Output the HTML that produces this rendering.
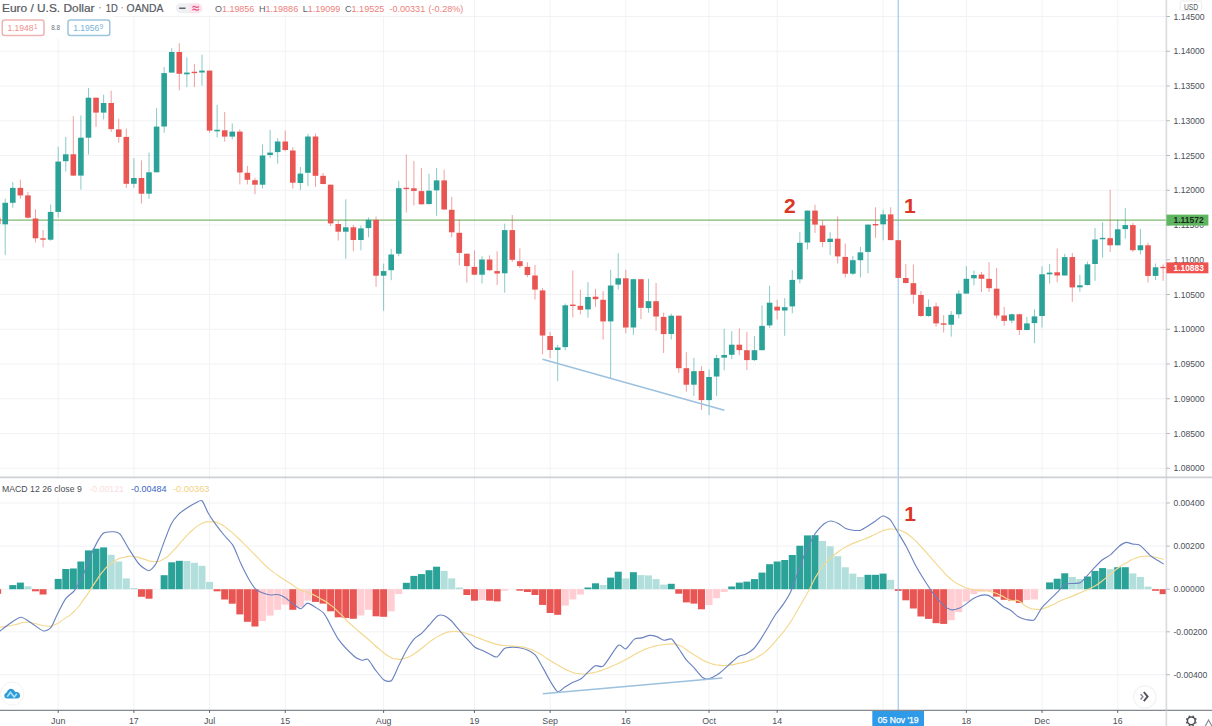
<!DOCTYPE html>
<html><head><meta charset="utf-8"><title>EURUSD chart</title>
<style>
html,body{margin:0;padding:0;background:#fff;}
body{width:1212px;height:726px;overflow:hidden;font-family:"Liberation Sans",sans-serif;}
svg{display:block;}
#wrap{width:1212px;height:726px;overflow:hidden;}
</style></head><body>
<div id="wrap">
<svg width="1212" height="726" viewBox="0 0 1212 726" font-family="Liberation Sans, sans-serif">
<rect width="1212" height="726" fill="#fff"/>
<g stroke="#f0f2f5" stroke-width="1">
<line x1="58.2" y1="0" x2="58.2" y2="710.4"/>
<line x1="133.88" y1="0" x2="133.88" y2="710.4"/>
<line x1="209.56" y1="0" x2="209.56" y2="710.4"/>
<line x1="285.24" y1="0" x2="285.24" y2="710.4"/>
<line x1="383.62" y1="0" x2="383.62" y2="710.4"/>
<line x1="474.44" y1="0" x2="474.44" y2="710.4"/>
<line x1="550.12" y1="0" x2="550.12" y2="710.4"/>
<line x1="625.8" y1="0" x2="625.8" y2="710.4"/>
<line x1="709.05" y1="0" x2="709.05" y2="710.4"/>
<line x1="777.16" y1="0" x2="777.16" y2="710.4"/>
<line x1="883.11" y1="0" x2="883.11" y2="710.4"/>
<line x1="966.36" y1="0" x2="966.36" y2="710.4"/>
<line x1="1042.04" y1="0" x2="1042.04" y2="710.4"/>
<line x1="1117.72" y1="0" x2="1117.72" y2="710.4"/>
<line x1="0" y1="16.5" x2="1166.4" y2="16.5"/>
<line x1="0" y1="51.25" x2="1166.4" y2="51.25"/>
<line x1="0" y1="86" x2="1166.4" y2="86"/>
<line x1="0" y1="120.75" x2="1166.4" y2="120.75"/>
<line x1="0" y1="155.5" x2="1166.4" y2="155.5"/>
<line x1="0" y1="190.25" x2="1166.4" y2="190.25"/>
<line x1="0" y1="225" x2="1166.4" y2="225"/>
<line x1="0" y1="259.75" x2="1166.4" y2="259.75"/>
<line x1="0" y1="294.5" x2="1166.4" y2="294.5"/>
<line x1="0" y1="329.25" x2="1166.4" y2="329.25"/>
<line x1="0" y1="364" x2="1166.4" y2="364"/>
<line x1="0" y1="398.75" x2="1166.4" y2="398.75"/>
<line x1="0" y1="433.5" x2="1166.4" y2="433.5"/>
<line x1="0" y1="468.25" x2="1166.4" y2="468.25"/>
<line x1="0" y1="503" x2="1166.4" y2="503"/>
<line x1="0" y1="546.1" x2="1166.4" y2="546.1"/>
<line x1="0" y1="589.2" x2="1166.4" y2="589.2"/>
<line x1="0" y1="631.8" x2="1166.4" y2="631.8"/>
<line x1="0" y1="674.7" x2="1166.4" y2="674.7"/>
</g>
<g>
<rect x="-5.84" y="589.2" width="7.0" height="4.6" fill="#e85552"/>
<rect x="9.29" y="585.1" width="7.0" height="4.1" fill="#2aa297"/>
<rect x="16.86" y="582.6" width="7.0" height="6.6" fill="#2aa297"/>
<rect x="24.43" y="586.3" width="7.0" height="2.9" fill="#b2dfdb"/>
<rect x="32" y="589.2" width="7.0" height="2.1" fill="#e85552"/>
<rect x="39.56" y="589.2" width="7.0" height="5.3" fill="#e85552"/>
<rect x="54.7" y="578.9" width="7.0" height="10.3" fill="#2aa297"/>
<rect x="62.27" y="569" width="7.0" height="20.2" fill="#2aa297"/>
<rect x="69.84" y="568.5" width="7.0" height="20.7" fill="#2aa297"/>
<rect x="77.4" y="561.5" width="7.0" height="27.7" fill="#2aa297"/>
<rect x="84.97" y="550.4" width="7.0" height="38.8" fill="#2aa297"/>
<rect x="92.54" y="548.7" width="7.0" height="40.5" fill="#2aa297"/>
<rect x="100.11" y="547.4" width="7.0" height="41.8" fill="#2aa297"/>
<rect x="107.68" y="554.8" width="7.0" height="34.4" fill="#b2dfdb"/>
<rect x="115.24" y="561.5" width="7.0" height="27.7" fill="#b2dfdb"/>
<rect x="122.81" y="578.4" width="7.0" height="10.8" fill="#b2dfdb"/>
<rect x="130.38" y="588" width="7.0" height="1.2" fill="#b2dfdb"/>
<rect x="137.95" y="589.2" width="7.0" height="7.6" fill="#e85552"/>
<rect x="145.52" y="589.2" width="7.0" height="9.5" fill="#e85552"/>
<rect x="160.65" y="575.2" width="7.0" height="14" fill="#2aa297"/>
<rect x="168.22" y="562.3" width="7.0" height="26.9" fill="#2aa297"/>
<rect x="175.79" y="560.8" width="7.0" height="28.4" fill="#2aa297"/>
<rect x="183.36" y="561" width="7.0" height="28.2" fill="#b2dfdb"/>
<rect x="190.92" y="562.8" width="7.0" height="26.4" fill="#b2dfdb"/>
<rect x="198.49" y="565.8" width="7.0" height="23.4" fill="#b2dfdb"/>
<rect x="206.06" y="581.9" width="7.0" height="7.3" fill="#b2dfdb"/>
<rect x="213.63" y="589.2" width="7.0" height="2.1" fill="#e85552"/>
<rect x="221.2" y="589.2" width="7.0" height="10.3" fill="#e85552"/>
<rect x="228.76" y="589.2" width="7.0" height="14.5" fill="#e85552"/>
<rect x="236.33" y="589.2" width="7.0" height="25.2" fill="#e85552"/>
<rect x="243.9" y="589.2" width="7.0" height="32.6" fill="#e85552"/>
<rect x="251.47" y="589.2" width="7.0" height="37.3" fill="#e85552"/>
<rect x="259.04" y="589.2" width="7.0" height="31.8" fill="#ffcdd2"/>
<rect x="266.6" y="589.2" width="7.0" height="26.4" fill="#ffcdd2"/>
<rect x="274.17" y="589.2" width="7.0" height="20.7" fill="#ffcdd2"/>
<rect x="281.74" y="589.2" width="7.0" height="15.4" fill="#ffcdd2"/>
<rect x="289.31" y="589.2" width="7.0" height="20.6" fill="#e85552"/>
<rect x="296.88" y="589.2" width="7.0" height="17.7" fill="#ffcdd2"/>
<rect x="304.44" y="589.2" width="7.0" height="11.5" fill="#ffcdd2"/>
<rect x="312.01" y="589.2" width="7.0" height="12.7" fill="#e85552"/>
<rect x="319.58" y="589.2" width="7.0" height="14.4" fill="#e85552"/>
<rect x="327.15" y="589.2" width="7.0" height="22.1" fill="#e85552"/>
<rect x="334.72" y="589.2" width="7.0" height="28.1" fill="#e85552"/>
<rect x="342.28" y="589.2" width="7.0" height="28.8" fill="#e85552"/>
<rect x="349.85" y="589.2" width="7.0" height="29.6" fill="#e85552"/>
<rect x="357.42" y="589.2" width="7.0" height="26.3" fill="#ffcdd2"/>
<rect x="364.99" y="589.2" width="7.0" height="20.6" fill="#ffcdd2"/>
<rect x="372.56" y="589.2" width="7.0" height="27.1" fill="#e85552"/>
<rect x="380.12" y="589.2" width="7.0" height="27.6" fill="#e85552"/>
<rect x="387.69" y="589.2" width="7.0" height="22.1" fill="#ffcdd2"/>
<rect x="395.26" y="589.2" width="7.0" height="4.8" fill="#ffcdd2"/>
<rect x="402.83" y="582.8" width="7.0" height="6.4" fill="#2aa297"/>
<rect x="410.4" y="575.9" width="7.0" height="13.3" fill="#2aa297"/>
<rect x="417.96" y="574.1" width="7.0" height="15.1" fill="#2aa297"/>
<rect x="425.53" y="570.2" width="7.0" height="19" fill="#2aa297"/>
<rect x="433.1" y="566.7" width="7.0" height="22.5" fill="#2aa297"/>
<rect x="440.67" y="570.9" width="7.0" height="18.3" fill="#b2dfdb"/>
<rect x="448.24" y="578.4" width="7.0" height="10.8" fill="#b2dfdb"/>
<rect x="455.8" y="587.5" width="7.0" height="1.7" fill="#b2dfdb"/>
<rect x="463.37" y="589.2" width="7.0" height="5.8" fill="#e85552"/>
<rect x="470.94" y="589.2" width="7.0" height="11.5" fill="#e85552"/>
<rect x="478.51" y="589.2" width="7.0" height="10.7" fill="#ffcdd2"/>
<rect x="486.08" y="589.2" width="7.0" height="11.5" fill="#e85552"/>
<rect x="493.64" y="589.2" width="7.0" height="12.2" fill="#e85552"/>
<rect x="501.21" y="589.2" width="7.0" height="1.5" fill="#ffcdd2"/>
<rect x="516.35" y="589.2" width="7.0" height="1.5" fill="#e85552"/>
<rect x="523.92" y="589.2" width="7.0" height="2.8" fill="#e85552"/>
<rect x="531.48" y="589.2" width="7.0" height="5.8" fill="#e85552"/>
<rect x="539.05" y="589.2" width="7.0" height="15.7" fill="#e85552"/>
<rect x="546.62" y="589.2" width="7.0" height="23.8" fill="#e85552"/>
<rect x="554.19" y="589.2" width="7.0" height="25.6" fill="#e85552"/>
<rect x="561.76" y="589.2" width="7.0" height="16.4" fill="#ffcdd2"/>
<rect x="569.32" y="589.2" width="7.0" height="10.2" fill="#ffcdd2"/>
<rect x="576.89" y="589.2" width="7.0" height="5.3" fill="#ffcdd2"/>
<rect x="584.46" y="587.5" width="7.0" height="1.7" fill="#2aa297"/>
<rect x="592.03" y="583.3" width="7.0" height="5.9" fill="#2aa297"/>
<rect x="599.6" y="585" width="7.0" height="4.2" fill="#b2dfdb"/>
<rect x="607.16" y="577.6" width="7.0" height="11.6" fill="#2aa297"/>
<rect x="614.73" y="571.7" width="7.0" height="17.5" fill="#2aa297"/>
<rect x="622.3" y="578.4" width="7.0" height="10.8" fill="#b2dfdb"/>
<rect x="629.87" y="572.2" width="7.0" height="17" fill="#2aa297"/>
<rect x="637.44" y="575.1" width="7.0" height="14.1" fill="#b2dfdb"/>
<rect x="645" y="575.4" width="7.0" height="13.8" fill="#b2dfdb"/>
<rect x="652.57" y="579.1" width="7.0" height="10.1" fill="#b2dfdb"/>
<rect x="660.14" y="584.6" width="7.0" height="4.6" fill="#b2dfdb"/>
<rect x="667.71" y="583.8" width="7.0" height="5.4" fill="#2aa297"/>
<rect x="675.28" y="589.2" width="7.0" height="4.5" fill="#e85552"/>
<rect x="682.84" y="589.2" width="7.0" height="13.2" fill="#e85552"/>
<rect x="690.41" y="589.2" width="7.0" height="14.4" fill="#e85552"/>
<rect x="697.98" y="589.2" width="7.0" height="20.1" fill="#e85552"/>
<rect x="705.55" y="589.2" width="7.0" height="15.9" fill="#ffcdd2"/>
<rect x="713.12" y="589.2" width="7.0" height="9" fill="#ffcdd2"/>
<rect x="720.68" y="589.2" width="7.0" height="2.8" fill="#ffcdd2"/>
<rect x="728.25" y="586.5" width="7.0" height="2.7" fill="#2aa297"/>
<rect x="735.82" y="582.6" width="7.0" height="6.6" fill="#2aa297"/>
<rect x="743.39" y="581.6" width="7.0" height="7.6" fill="#2aa297"/>
<rect x="750.96" y="579.1" width="7.0" height="10.1" fill="#2aa297"/>
<rect x="758.52" y="572.6" width="7.0" height="16.6" fill="#2aa297"/>
<rect x="766.09" y="564.2" width="7.0" height="25" fill="#2aa297"/>
<rect x="773.66" y="561.5" width="7.0" height="27.7" fill="#2aa297"/>
<rect x="781.23" y="560" width="7.0" height="29.2" fill="#2aa297"/>
<rect x="788.8" y="555" width="7.0" height="34.2" fill="#2aa297"/>
<rect x="796.36" y="545.7" width="7.0" height="43.5" fill="#2aa297"/>
<rect x="803.93" y="535.4" width="7.0" height="53.8" fill="#2aa297"/>
<rect x="811.5" y="535.2" width="7.0" height="54" fill="#2aa297"/>
<rect x="819.07" y="541" width="7.0" height="48.2" fill="#b2dfdb"/>
<rect x="826.64" y="546.3" width="7.0" height="42.9" fill="#b2dfdb"/>
<rect x="834.2" y="556.2" width="7.0" height="33" fill="#b2dfdb"/>
<rect x="841.77" y="567.3" width="7.0" height="21.9" fill="#b2dfdb"/>
<rect x="849.34" y="573.6" width="7.0" height="15.6" fill="#b2dfdb"/>
<rect x="856.91" y="577" width="7.0" height="12.2" fill="#b2dfdb"/>
<rect x="864.48" y="574.8" width="7.0" height="14.4" fill="#2aa297"/>
<rect x="872.04" y="574.8" width="7.0" height="14.4" fill="#2aa297"/>
<rect x="879.61" y="573.6" width="7.0" height="15.6" fill="#2aa297"/>
<rect x="887.18" y="579.8" width="7.0" height="9.4" fill="#b2dfdb"/>
<rect x="894.75" y="589.2" width="7.0" height="1.7" fill="#e85552"/>
<rect x="902.32" y="589.2" width="7.0" height="11.1" fill="#e85552"/>
<rect x="909.88" y="589.2" width="7.0" height="19.3" fill="#e85552"/>
<rect x="917.45" y="589.2" width="7.0" height="27.3" fill="#e85552"/>
<rect x="925.02" y="589.2" width="7.0" height="29.7" fill="#e85552"/>
<rect x="932.59" y="589.2" width="7.0" height="34" fill="#e85552"/>
<rect x="940.16" y="589.2" width="7.0" height="34.7" fill="#e85552"/>
<rect x="947.72" y="589.2" width="7.0" height="31" fill="#ffcdd2"/>
<rect x="955.29" y="589.2" width="7.0" height="23" fill="#ffcdd2"/>
<rect x="962.86" y="589.2" width="7.0" height="12.4" fill="#ffcdd2"/>
<rect x="970.43" y="589.2" width="7.0" height="4.9" fill="#ffcdd2"/>
<rect x="978" y="589.2" width="7.0" height="2.5" fill="#ffcdd2"/>
<rect x="985.56" y="589.2" width="7.0" height="2" fill="#ffcdd2"/>
<rect x="993.13" y="589.2" width="7.0" height="7.4" fill="#e85552"/>
<rect x="1000.7" y="589.2" width="7.0" height="10.6" fill="#e85552"/>
<rect x="1008.27" y="589.2" width="7.0" height="11.6" fill="#e85552"/>
<rect x="1015.84" y="589.2" width="7.0" height="13.7" fill="#e85552"/>
<rect x="1023.4" y="589.2" width="7.0" height="10.9" fill="#ffcdd2"/>
<rect x="1030.97" y="589.2" width="7.0" height="10.2" fill="#ffcdd2"/>
<rect x="1046.11" y="582.4" width="7.0" height="6.8" fill="#2aa297"/>
<rect x="1053.68" y="578.7" width="7.0" height="10.5" fill="#2aa297"/>
<rect x="1061.24" y="573.3" width="7.0" height="15.9" fill="#2aa297"/>
<rect x="1068.81" y="577" width="7.0" height="12.2" fill="#b2dfdb"/>
<rect x="1076.38" y="579.1" width="7.0" height="10.1" fill="#b2dfdb"/>
<rect x="1083.95" y="576.5" width="7.0" height="12.7" fill="#2aa297"/>
<rect x="1091.52" y="570.9" width="7.0" height="18.3" fill="#2aa297"/>
<rect x="1099.08" y="568.1" width="7.0" height="21.1" fill="#2aa297"/>
<rect x="1106.65" y="569.2" width="7.0" height="20" fill="#b2dfdb"/>
<rect x="1114.22" y="567.2" width="7.0" height="22" fill="#2aa297"/>
<rect x="1121.79" y="567.2" width="7.0" height="22" fill="#2aa297"/>
<rect x="1129.36" y="573.4" width="7.0" height="15.8" fill="#b2dfdb"/>
<rect x="1136.92" y="577" width="7.0" height="12.2" fill="#b2dfdb"/>
<rect x="1144.49" y="586.6" width="7.0" height="2.6" fill="#b2dfdb"/>
<rect x="1152.06" y="589.2" width="7.0" height="1.6" fill="#e85552"/>
<rect x="1159.63" y="589.2" width="7.0" height="4.9" fill="#e85552"/>
</g>
<path d="M0 627.3 C5 626.47 6.67 626.47 15 624.8 C23.33 623.13 18.33 622.73 25 622.3 C31.67 621.87 28 622.27 35 623.5 C42 624.73 39.5 625.57 46 626 C52.5 626.43 48.33 627.27 54.5 624.8 C60.67 622.33 57.87 623.17 64.5 618.6 C71.13 614.03 67.8 617.73 74.4 611.1 C81 604.47 77.7 607.77 84.3 598.7 C90.9 589.63 87.63 593.4 94.2 583.9 C100.77 574.4 97.4 577.67 104 570.2 C110.6 562.73 107.33 565.8 114 561.5 C120.67 557.2 117.33 558.93 124 557.3 C130.67 555.67 127.4 556 134 556.6 C140.6 557.2 137.23 557.47 143.8 559.1 C150.37 560.73 147.07 561.5 153.7 561.5 C160.33 561.5 157.07 562.8 163.7 559.1 C170.33 555.4 167 557.03 173.6 550.4 C180.2 543.77 176.9 546.23 183.5 539.2 C190.1 532.17 187.23 534.5 193.4 529.3 C199.57 524.1 196.63 526.07 202 523.6 C207.37 521.13 204.1 522.07 209.5 521.9 C214.9 521.73 212.03 520.63 218.2 523.1 C224.37 525.57 221.4 524.33 228 529.3 C234.6 534.27 231.33 531.8 238 538 C244.67 544.2 241.37 541.3 248 547.9 C254.63 554.5 251.3 551.2 257.9 557.8 C264.5 564.4 261.2 561.9 267.8 567.7 C274.4 573.5 270.33 570 277.7 575.2 C285.07 580.4 282.53 578.53 289.9 583.3 C297.27 588.07 293.17 586.2 299.8 589.5 C306.43 592.8 303.17 590.3 309.8 593.2 C316.43 596.1 313.1 594.47 319.7 598.2 C326.3 601.93 323 599.43 329.6 604.4 C336.2 609.37 332.9 606.9 339.5 613.1 C346.1 619.3 342.8 616.8 349.4 623 C356 629.2 352.67 625.93 359.3 631.7 C365.93 637.47 362.67 634.53 369.3 640.3 C375.93 646.07 372.6 643.6 379.2 649 C385.8 654.4 383.33 653.2 389.1 656.5 C394.87 659.8 391.53 658.27 396.5 658.9 C401.47 659.53 398.2 660.03 404 658.4 C409.8 656.77 407.3 657.97 413.9 654 C420.5 650.03 417.2 651.47 423.8 646.5 C430.4 641.53 427.07 643.4 433.7 639.1 C440.33 634.8 437.9 636.07 443.7 633.6 C449.5 631.13 446.17 632.33 451.1 631.7 C456.03 631.07 452.73 630.9 458.5 631.7 C464.27 632.5 461.77 632.03 468.4 634.1 C475.03 636.17 471.77 635.4 478.4 637.9 C485.03 640.4 481.7 639.37 488.3 641.6 C494.9 643.83 491.6 643.2 498.2 644.6 C504.8 646 501.5 645.17 508.1 645.8 C514.7 646.43 511.37 645.6 518 646.5 C524.63 647.4 521.37 646.43 528 648.5 C534.63 650.57 531.3 649.23 537.9 652.7 C544.5 656.17 541.2 654.77 547.8 658.9 C554.4 663.03 550.33 660.97 557.7 665.1 C565.07 669.23 562.53 668.4 569.9 671.3 C577.27 674.2 573.17 673.13 579.8 673.8 C586.43 674.47 582.33 674.53 589.8 673.3 C597.27 672.07 593.97 672.83 602.2 670.1 C610.43 667.37 606.27 668.83 614.5 665.1 C622.73 661.37 618.63 663.27 626.9 658.9 C635.17 654.53 631.83 655.7 639.3 652 C646.77 648.3 642.67 650.03 649.3 647.8 C655.93 645.57 652.6 646.53 659.2 645.3 C665.8 644.07 662.5 644.1 669.1 644.1 C675.7 644.1 672.4 642.83 679 645.3 C685.6 647.77 682.27 647.37 688.9 651.5 C695.53 655.63 692.27 653.97 698.9 657.7 C705.53 661.43 702.2 660.23 708.8 662.7 C715.4 665.17 712.1 664.3 718.7 665.1 C725.3 665.9 722 665.67 728.6 665.1 C735.2 664.53 731.9 664.8 738.5 663.4 C745.1 662 741.77 663.2 748.4 660.9 C755.03 658.6 751.77 660.47 758.4 656.5 C765.03 652.53 761.7 655.2 768.3 649 C774.9 642.8 771.6 645.73 778.2 637.9 C784.8 630.07 781.5 635.03 788.1 625.5 C794.7 615.97 791.37 620.47 798 609.3 C804.63 598.13 801.37 603.97 808 592 C814.63 580.03 811.3 583.73 817.9 573.4 C824.5 563.07 821.2 568.03 827.8 561 C834.4 553.97 831.1 557.27 837.7 552.3 C844.3 547.33 841 549.67 847.6 546.1 C854.2 542.53 850.27 544.6 857.5 541.6 C864.73 538.6 862.07 540.23 869.3 537.1 C876.53 533.97 873.43 534.67 879.2 532.2 C884.97 529.73 881.63 530.7 886.6 529.7 C891.57 528.7 889.13 528.8 894.1 529.2 C899.07 529.6 895.73 528.27 901.5 530.9 C907.27 533.53 904.8 531.73 911.4 537.1 C918 542.47 914.67 539.97 921.3 547 C927.93 554.03 924.67 550.77 931.3 558.2 C937.93 565.63 934.6 562.27 941.2 569.3 C947.8 576.33 944.5 573.9 951.1 579.3 C957.7 584.7 954.4 582.2 961 585.5 C967.6 588.8 964.3 587.57 970.9 589.2 C977.5 590.83 974.17 589.57 980.8 590.4 C987.43 591.23 984.17 590.03 990.8 591.7 C997.43 593.37 994.1 592.53 1000.7 595.4 C1007.3 598.27 1004.7 598.5 1010.6 600.3 C1016.5 602.1 1013 598.67 1018.4 600.8 C1023.8 602.93 1021.2 603.9 1026.8 606.7 C1032.4 609.5 1029.6 608.63 1035.2 609.2 C1040.8 609.77 1038 609.8 1043.6 608.4 C1049.2 607 1046.4 607.53 1052 605 C1057.6 602.47 1054.8 603.3 1060.4 600.8 C1066 598.3 1063.2 599.73 1068.8 597.5 C1074.4 595.27 1071.6 596.47 1077.2 594.1 C1082.8 591.73 1080 592.9 1085.6 590.4 C1091.2 587.9 1088.4 589.83 1094 586.6 C1099.6 583.37 1096.8 584.93 1102.4 580.7 C1108 576.47 1105.2 578.4 1110.8 573.9 C1116.4 569.4 1113.6 571.1 1119.2 567.2 C1124.8 563.3 1122 565.27 1127.6 562.2 C1133.2 559.13 1130.37 559.97 1136 558 C1141.63 556.03 1138.87 556.7 1144.5 556.3 C1150.13 555.9 1146.63 555.83 1152.9 556.8 C1159.17 557.77 1159.83 558.4 1163.3 559.2" fill="none" stroke="#f3d88e" stroke-width="1.15" stroke-linejoin="round" stroke-linecap="round" opacity="1"/>
<path d="M0 631 C1.17 630.12 7.55 625.1 10 623.5 C12.45 621.9 18.43 617.3 21 617.3 C23.57 617.3 29.38 621.9 32 623.5 C34.62 625.1 41.28 630.56 43.5 631 C45.72 631.44 49.42 629.18 51 627.3 C52.58 625.42 55.28 618.24 57 614.9 C58.72 611.56 63.67 601.54 65.7 598.7 C67.73 595.87 72.38 593.34 74.4 590.6 C76.42 587.86 80.83 579.89 83 575.2 C85.17 570.51 90.67 555.26 93 550.4 C95.33 545.53 100.55 535.67 103 533.5 C105.45 531.33 111.98 531.71 114 531.8 C116.02 531.89 118.55 532.28 120.3 534.3 C122.05 536.32 126.82 545.63 129 549.1 C131.18 552.57 136.69 561.48 139 564 C141.31 566.52 146.79 570.78 148.8 570.7 C150.81 570.62 154.46 566.54 156.2 563.3 C157.94 560.06 161.97 547.44 163.7 542.9 C165.43 538.36 169.27 527.73 171 524.4 C172.73 521.07 176.46 516.43 178.5 514.4 C180.54 512.37 186.46 508.35 188.5 507 C190.54 505.65 194.43 503.52 196 502.8 C197.57 502.08 200.56 499.59 202 500.8 C203.44 502.01 206.7 510.45 208.3 513.2 C209.9 515.95 213.82 521.8 215.7 524.4 C217.58 527 222.38 533.05 224.4 535.5 C226.42 537.95 231.12 542.22 233 545.4 C234.88 548.58 238.75 559.03 240.5 562.8 C242.25 566.57 246.26 574.67 248 577.7 C249.74 580.73 253.65 587.01 255.4 588.8 C257.15 590.58 261.26 592.28 263 593 C264.74 593.72 268.59 594.83 270.3 595 C272.01 595.17 275.99 594.21 277.7 594.5 C279.41 594.79 283.14 596.35 285 597.5 C286.86 598.65 291.73 603.08 293.6 604.4 C295.47 605.72 299.4 608.95 301 608.8 C302.6 608.65 305.7 603.32 307.3 603.1 C308.9 602.88 312.68 605.59 314.7 606.9 C316.72 608.21 321.85 610.54 324.6 614.3 C327.35 618.06 334.82 634.18 338.3 639.1 C341.78 644.02 351.66 654.04 354.4 656.5 C357.14 658.96 360.21 659.86 361.8 660.2 C363.39 660.54 366.4 658.25 368 659.4 C369.6 660.55 373.63 667.7 375.5 670.1 C377.37 672.5 382.12 678.79 384 680 C385.88 681.21 389.85 682.24 391.6 680.5 C393.35 678.76 397.26 668.62 399 665.1 C400.74 661.58 404.75 653.33 406.5 650.3 C408.25 647.27 412.27 641.05 414 639.1 C415.73 637.15 419.57 635.19 421.3 633.6 C423.03 632.01 426.91 627.55 428.8 625.5 C430.69 623.45 435.76 617.17 437.5 616 C439.24 614.83 442.12 614.98 443.7 615.5 C445.27 616.02 449.27 618.9 451 620.5 C452.73 622.1 456.75 627.17 458.5 629.2 C460.25 631.23 464.12 635.82 466 637.9 C467.88 639.98 472.73 645.55 474.6 647 C476.47 648.45 480.26 649.48 482 650.3 C483.74 651.12 487.75 653.22 489.5 654 C491.25 654.78 495.26 657.64 497 657 C498.74 656.36 502.67 649.63 504.4 648.5 C506.13 647.37 510.06 647.38 511.8 647.3 C513.54 647.22 517.41 647.45 519.3 647.8 C521.19 648.15 526.12 649.44 528 650.3 C529.88 651.16 533.67 653.18 535.4 655.2 C537.13 657.22 541.06 664.56 542.8 667.6 C544.54 670.64 548.56 678.49 550.3 681.3 C552.04 684.11 555.99 691.04 557.7 691.7 C559.42 692.37 563.26 688.07 565 687 C566.74 685.93 570.73 683.46 572.6 682.5 C574.47 681.54 578.42 680.74 581 678.8 C583.58 676.86 592.09 667.4 594.7 665.9 C597.31 664.39 600.65 668.3 603.4 665.9 C606.15 663.5 615.7 647.27 618.3 645.3 C620.9 643.33 623.82 649.72 625.7 649 C627.58 648.28 632.52 640.39 634.4 639.1 C636.28 637.81 640.06 638.33 641.8 637.9 C643.54 637.47 647.56 635.55 649.3 635.4 C651.04 635.25 654.97 636.03 656.7 636.6 C658.43 637.17 662.36 640.01 664.1 640.3 C665.84 640.59 669.86 638.09 671.6 639.1 C673.34 640.12 677.26 646.54 679 649 C680.74 651.46 684.76 658.03 686.5 660.2 C688.24 662.37 692.02 665.58 693.9 667.6 C695.78 669.62 700.86 676.19 702.6 677.5 C704.34 678.81 706.92 679.23 708.8 678.8 C710.68 678.37 716.39 675.4 718.7 673.8 C721.01 672.2 726.29 667.12 728.6 665.1 C730.91 663.08 736.47 657.79 738.5 656.5 C740.53 655.21 744.26 654.88 746 654 C747.74 653.12 751.67 650.74 753.4 649 C755.13 647.26 759.06 641.7 760.8 639.1 C762.54 636.5 766.56 629.59 768.3 626.7 C770.04 623.81 773.96 616.9 775.7 614.3 C777.44 611.7 781.46 607 783.2 604.4 C784.94 601.8 788.87 595.76 790.6 592 C792.33 588.24 796.26 576.83 798 572.2 C799.74 567.57 803.76 556.36 805.5 552.3 C807.24 548.24 811.53 539.9 812.9 537.4 C814.26 534.9 815.84 532.52 817.2 530.9 C818.57 529.28 823.01 524.65 824.6 523.5 C826.19 522.35 829.2 521 830.8 521 C832.4 521 836.56 522.64 838.3 523.5 C840.04 524.36 843.97 527.62 845.7 528.4 C847.43 529.18 851.36 529.99 853.1 530.2 C854.84 530.41 858.86 530.69 860.6 530.2 C862.34 529.71 866.26 527.07 868 526 C869.74 524.93 873.76 522.17 875.5 521 C877.24 519.83 881.17 516.14 882.9 516 C884.63 515.86 888.56 517.91 890.3 519.8 C892.04 521.69 895.91 529.03 897.8 532.2 C899.69 535.37 904.48 543.24 906.5 547 C908.52 550.76 913.08 560.63 915.1 564.4 C917.12 568.17 921.63 575.83 923.8 579.3 C925.97 582.76 931.38 591.07 933.7 594.1 C936.02 597.13 941.67 603.47 943.7 605.3 C945.73 607.13 949.37 609.43 951.1 609.8 C952.83 610.17 956.76 609.16 958.5 608.5 C960.24 607.84 964.26 605.25 966 604.1 C967.74 602.95 971.67 599.62 973.4 598.6 C975.13 597.59 979.06 595.77 980.8 595.4 C982.54 595.03 986.56 594.83 988.3 595.4 C990.04 595.97 993.96 599 995.7 600.3 C997.44 601.59 1001.46 605.33 1003.2 606.5 C1004.94 607.67 1008.83 609.1 1010.6 610.3 C1012.37 611.5 1016.51 615.7 1018.4 616.8 C1020.29 617.9 1024.93 619.36 1026.8 619.7 C1028.67 620.04 1032.64 621.11 1034.4 619.7 C1036.16 618.29 1040.05 609.99 1041.9 607.6 C1043.76 605.21 1048.34 601.16 1050.3 599.2 C1052.26 597.24 1056.93 592.57 1058.7 590.8 C1060.47 589.03 1063.73 584.85 1065.5 584 C1067.27 583.15 1072.14 583.69 1073.9 583.5 C1075.66 583.31 1079.04 583.32 1080.6 582.4 C1082.16 581.48 1085.74 577.27 1087.3 575.6 C1088.86 573.93 1092.24 569.96 1094 568.1 C1095.76 566.25 1100.44 561.28 1102.4 559.7 C1104.36 558.12 1108.84 556.18 1110.8 554.6 C1112.76 553.02 1117.43 547.62 1119.2 546.2 C1120.97 544.78 1124.42 542.66 1126 542.4 C1127.58 542.14 1131.14 543.7 1132.7 544 C1134.26 544.3 1138.02 544.35 1139.4 545 C1140.78 545.65 1143.12 548.28 1144.5 549.6 C1145.88 550.92 1149.64 555.03 1151.2 556.3 C1152.76 557.57 1156.49 559.61 1157.9 560.5 C1159.31 561.39 1162.67 563.5 1163.3 563.9" fill="none" stroke="#6a82bf" stroke-width="1.12" stroke-linejoin="round" stroke-linecap="round" opacity="1"/>
<line x1="898.2" y1="0" x2="898.2" y2="710.4" stroke="#8fc0ea" stroke-width="1.05"/>
<line x1="0" y1="220.1" x2="1166.4" y2="220.1" stroke="#7db86e" stroke-width="1.15"/>
<g>
<line x1="-2.34" y1="214" x2="-2.34" y2="226" stroke="#e85552" stroke-width="1" opacity="0.55"/>
<rect x="-5.14" y="217.7" width="5.6" height="6.3" fill="#e85552"/>
<line x1="5.22" y1="198.7" x2="5.22" y2="254.9" stroke="#2aa297" stroke-width="1" opacity="0.55"/>
<rect x="2.42" y="202.8" width="5.6" height="21.5" fill="#2aa297"/>
<line x1="12.79" y1="182.1" x2="12.79" y2="207.8" stroke="#2aa297" stroke-width="1" opacity="0.55"/>
<rect x="9.99" y="187.9" width="5.6" height="14.9" fill="#2aa297"/>
<line x1="20.36" y1="179.7" x2="20.36" y2="198.7" stroke="#e85552" stroke-width="1" opacity="0.55"/>
<rect x="17.56" y="187.9" width="5.6" height="7.5" fill="#e85552"/>
<line x1="27.93" y1="192" x2="27.93" y2="218.5" stroke="#e85552" stroke-width="1" opacity="0.55"/>
<rect x="25.13" y="195.4" width="5.6" height="22.3" fill="#e85552"/>
<line x1="35.5" y1="209.4" x2="35.5" y2="242.5" stroke="#e85552" stroke-width="1" opacity="0.55"/>
<rect x="32.7" y="218.5" width="5.6" height="19.8" fill="#e85552"/>
<line x1="43.06" y1="230" x2="43.06" y2="247.4" stroke="#e85552" stroke-width="1" opacity="0.55"/>
<rect x="40.26" y="238.3" width="5.6" height="1.4" fill="#e85552"/>
<line x1="50.63" y1="204.5" x2="50.63" y2="240.8" stroke="#2aa297" stroke-width="1" opacity="0.55"/>
<rect x="47.83" y="211.9" width="5.6" height="27.8" fill="#2aa297"/>
<line x1="58.2" y1="146.7" x2="58.2" y2="217.7" stroke="#2aa297" stroke-width="1" opacity="0.55"/>
<rect x="55.4" y="161.6" width="5.6" height="50.3" fill="#2aa297"/>
<line x1="65.77" y1="136.9" x2="65.77" y2="171.5" stroke="#2aa297" stroke-width="1" opacity="0.55"/>
<rect x="62.97" y="154.3" width="5.6" height="6.9" fill="#2aa297"/>
<line x1="73.34" y1="116.2" x2="73.34" y2="176" stroke="#e85552" stroke-width="1" opacity="0.55"/>
<rect x="70.54" y="154.3" width="5.6" height="21.3" fill="#e85552"/>
<line x1="80.9" y1="115.4" x2="80.9" y2="189.6" stroke="#2aa297" stroke-width="1" opacity="0.55"/>
<rect x="78.1" y="137.7" width="5.6" height="37.9" fill="#2aa297"/>
<line x1="88.47" y1="88.1" x2="88.47" y2="154.5" stroke="#2aa297" stroke-width="1" opacity="0.55"/>
<rect x="85.67" y="97.7" width="5.6" height="40" fill="#2aa297"/>
<line x1="96.04" y1="97.7" x2="96.04" y2="126.9" stroke="#e85552" stroke-width="1" opacity="0.55"/>
<rect x="93.24" y="97.7" width="5.6" height="14.9" fill="#e85552"/>
<line x1="103.61" y1="94.7" x2="103.61" y2="119.5" stroke="#2aa297" stroke-width="1" opacity="0.55"/>
<rect x="100.81" y="103" width="5.6" height="9.6" fill="#2aa297"/>
<line x1="111.18" y1="90.6" x2="111.18" y2="131.9" stroke="#e85552" stroke-width="1" opacity="0.55"/>
<rect x="108.38" y="103" width="5.6" height="26.1" fill="#e85552"/>
<line x1="118.74" y1="118.7" x2="118.74" y2="142.6" stroke="#e85552" stroke-width="1" opacity="0.55"/>
<rect x="115.94" y="129.4" width="5.6" height="7.5" fill="#e85552"/>
<line x1="126.31" y1="128.6" x2="126.31" y2="187.9" stroke="#e85552" stroke-width="1" opacity="0.55"/>
<rect x="123.51" y="136.9" width="5.6" height="46.9" fill="#e85552"/>
<line x1="133.88" y1="158.2" x2="133.88" y2="188" stroke="#2aa297" stroke-width="1" opacity="0.55"/>
<rect x="131.08" y="178" width="5.6" height="5.8" fill="#2aa297"/>
<line x1="141.45" y1="160.3" x2="141.45" y2="203.6" stroke="#e85552" stroke-width="1" opacity="0.55"/>
<rect x="138.65" y="178" width="5.6" height="15.7" fill="#e85552"/>
<line x1="149.02" y1="152.5" x2="149.02" y2="198.7" stroke="#2aa297" stroke-width="1" opacity="0.55"/>
<rect x="146.22" y="172.3" width="5.6" height="21.4" fill="#2aa297"/>
<line x1="156.58" y1="108.2" x2="156.58" y2="172.3" stroke="#2aa297" stroke-width="1" opacity="0.55"/>
<rect x="153.78" y="126.6" width="5.6" height="45.7" fill="#2aa297"/>
<line x1="164.15" y1="66.9" x2="164.15" y2="132.6" stroke="#2aa297" stroke-width="1" opacity="0.55"/>
<rect x="161.35" y="73.1" width="5.6" height="53.4" fill="#2aa297"/>
<line x1="171.72" y1="48.2" x2="171.72" y2="72.6" stroke="#2aa297" stroke-width="1" opacity="0.55"/>
<rect x="168.92" y="52" width="5.6" height="20.6" fill="#2aa297"/>
<line x1="179.29" y1="43.2" x2="179.29" y2="90.4" stroke="#e85552" stroke-width="1" opacity="0.55"/>
<rect x="176.49" y="52" width="5.6" height="21.8" fill="#e85552"/>
<line x1="186.86" y1="57.3" x2="186.86" y2="87.1" stroke="#2aa297" stroke-width="1" opacity="0.55"/>
<rect x="184.06" y="72.6" width="5.6" height="1.7" fill="#2aa297"/>
<line x1="194.42" y1="64" x2="194.42" y2="87.1" stroke="#e85552" stroke-width="1" opacity="0.55"/>
<rect x="191.62" y="71.75" width="5.6" height="1.4" fill="#e85552"/>
<line x1="201.99" y1="54.8" x2="201.99" y2="85.5" stroke="#2aa297" stroke-width="1" opacity="0.55"/>
<rect x="199.19" y="70.6" width="5.6" height="1.9" fill="#2aa297"/>
<line x1="209.56" y1="70.6" x2="209.56" y2="132.6" stroke="#e85552" stroke-width="1" opacity="0.55"/>
<rect x="206.76" y="70.6" width="5.6" height="60" fill="#e85552"/>
<line x1="217.13" y1="104.9" x2="217.13" y2="137.5" stroke="#2aa297" stroke-width="1" opacity="0.55"/>
<rect x="214.33" y="129.8" width="5.6" height="1.5" fill="#2aa297"/>
<line x1="224.7" y1="112" x2="224.7" y2="141.7" stroke="#e85552" stroke-width="1" opacity="0.55"/>
<rect x="221.9" y="130.3" width="5.6" height="6.3" fill="#e85552"/>
<line x1="232.26" y1="123.5" x2="232.26" y2="139.2" stroke="#2aa297" stroke-width="1" opacity="0.55"/>
<rect x="229.46" y="131.6" width="5.6" height="5" fill="#2aa297"/>
<line x1="239.83" y1="129.3" x2="239.83" y2="184.4" stroke="#e85552" stroke-width="1" opacity="0.55"/>
<rect x="237.03" y="131.6" width="5.6" height="40.9" fill="#e85552"/>
<line x1="247.4" y1="166" x2="247.4" y2="184.4" stroke="#e85552" stroke-width="1" opacity="0.55"/>
<rect x="244.6" y="172.8" width="5.6" height="7" fill="#e85552"/>
<line x1="254.97" y1="177.8" x2="254.97" y2="194.3" stroke="#e85552" stroke-width="1" opacity="0.55"/>
<rect x="252.17" y="180.2" width="5.6" height="4.5" fill="#e85552"/>
<line x1="262.54" y1="144.4" x2="262.54" y2="188.5" stroke="#2aa297" stroke-width="1" opacity="0.55"/>
<rect x="259.74" y="155.5" width="5.6" height="29.2" fill="#2aa297"/>
<line x1="270.1" y1="129.9" x2="270.1" y2="157.9" stroke="#2aa297" stroke-width="1" opacity="0.55"/>
<rect x="267.3" y="152.6" width="5.6" height="2.4" fill="#2aa297"/>
<line x1="277.67" y1="138.2" x2="277.67" y2="163.7" stroke="#2aa297" stroke-width="1" opacity="0.55"/>
<rect x="274.87" y="141.5" width="5.6" height="10.6" fill="#2aa297"/>
<line x1="285.24" y1="130.7" x2="285.24" y2="151.3" stroke="#e85552" stroke-width="1" opacity="0.55"/>
<rect x="282.44" y="141.5" width="5.6" height="8.5" fill="#e85552"/>
<line x1="292.81" y1="147.2" x2="292.81" y2="188.5" stroke="#e85552" stroke-width="1" opacity="0.55"/>
<rect x="290.01" y="150.5" width="5.6" height="32.2" fill="#e85552"/>
<line x1="300.38" y1="167" x2="300.38" y2="190.2" stroke="#2aa297" stroke-width="1" opacity="0.55"/>
<rect x="297.58" y="173.6" width="5.6" height="9.4" fill="#2aa297"/>
<line x1="307.94" y1="134" x2="307.94" y2="186" stroke="#2aa297" stroke-width="1" opacity="0.55"/>
<rect x="305.14" y="136.5" width="5.6" height="36.3" fill="#2aa297"/>
<line x1="315.51" y1="133.6" x2="315.51" y2="186.9" stroke="#e85552" stroke-width="1" opacity="0.55"/>
<rect x="312.71" y="136.5" width="5.6" height="39.3" fill="#e85552"/>
<line x1="323.08" y1="172.8" x2="323.08" y2="184.4" stroke="#e85552" stroke-width="1" opacity="0.55"/>
<rect x="320.28" y="175.8" width="5.6" height="8.2" fill="#e85552"/>
<line x1="330.65" y1="184.7" x2="330.65" y2="226" stroke="#e85552" stroke-width="1" opacity="0.55"/>
<rect x="327.85" y="184.7" width="5.6" height="38.7" fill="#e85552"/>
<line x1="338.22" y1="220.7" x2="338.22" y2="240.5" stroke="#e85552" stroke-width="1" opacity="0.55"/>
<rect x="335.42" y="224" width="5.6" height="7.7" fill="#e85552"/>
<line x1="345.78" y1="199.3" x2="345.78" y2="258.7" stroke="#2aa297" stroke-width="1" opacity="0.55"/>
<rect x="342.98" y="227.3" width="5.6" height="4.4" fill="#2aa297"/>
<line x1="353.35" y1="224.8" x2="353.35" y2="251.2" stroke="#e85552" stroke-width="1" opacity="0.55"/>
<rect x="350.55" y="227.3" width="5.6" height="12.7" fill="#e85552"/>
<line x1="360.92" y1="225.6" x2="360.92" y2="250.4" stroke="#2aa297" stroke-width="1" opacity="0.55"/>
<rect x="358.12" y="228.4" width="5.6" height="11.6" fill="#2aa297"/>
<line x1="368.49" y1="217.4" x2="368.49" y2="237.2" stroke="#2aa297" stroke-width="1" opacity="0.55"/>
<rect x="365.69" y="219.8" width="5.6" height="8.3" fill="#2aa297"/>
<line x1="376.06" y1="216.5" x2="376.06" y2="286.8" stroke="#e85552" stroke-width="1" opacity="0.55"/>
<rect x="373.26" y="219.8" width="5.6" height="55.9" fill="#e85552"/>
<line x1="383.62" y1="263.6" x2="383.62" y2="310.7" stroke="#2aa297" stroke-width="1" opacity="0.55"/>
<rect x="380.82" y="271.1" width="5.6" height="4.6" fill="#2aa297"/>
<line x1="391.19" y1="248.8" x2="391.19" y2="280.2" stroke="#2aa297" stroke-width="1" opacity="0.55"/>
<rect x="388.39" y="254.5" width="5.6" height="15.7" fill="#2aa297"/>
<line x1="398.76" y1="181.1" x2="398.76" y2="256.2" stroke="#2aa297" stroke-width="1" opacity="0.55"/>
<rect x="395.96" y="188.2" width="5.6" height="65.5" fill="#2aa297"/>
<line x1="406.33" y1="154.7" x2="406.33" y2="212.5" stroke="#e85552" stroke-width="1" opacity="0.55"/>
<rect x="403.53" y="187.75" width="5.6" height="1.4" fill="#e85552"/>
<line x1="413.9" y1="160.9" x2="413.9" y2="205.5" stroke="#e85552" stroke-width="1" opacity="0.55"/>
<rect x="411.1" y="188.3" width="5.6" height="2.6" fill="#e85552"/>
<line x1="421.46" y1="168" x2="421.46" y2="204.5" stroke="#e85552" stroke-width="1" opacity="0.55"/>
<rect x="418.66" y="191.1" width="5.6" height="13.2" fill="#e85552"/>
<line x1="429.03" y1="173.7" x2="429.03" y2="204.3" stroke="#2aa297" stroke-width="1" opacity="0.55"/>
<rect x="426.23" y="190.7" width="5.6" height="13.4" fill="#2aa297"/>
<line x1="436.6" y1="168" x2="436.6" y2="215.8" stroke="#2aa297" stroke-width="1" opacity="0.55"/>
<rect x="433.8" y="180.4" width="5.6" height="9.9" fill="#2aa297"/>
<line x1="444.17" y1="169.7" x2="444.17" y2="209.7" stroke="#e85552" stroke-width="1" opacity="0.55"/>
<rect x="441.37" y="180.4" width="5.6" height="29.1" fill="#e85552"/>
<line x1="451.74" y1="196.9" x2="451.74" y2="237.3" stroke="#e85552" stroke-width="1" opacity="0.55"/>
<rect x="448.94" y="209.8" width="5.6" height="22.5" fill="#e85552"/>
<line x1="459.3" y1="219.5" x2="459.3" y2="265.3" stroke="#e85552" stroke-width="1" opacity="0.55"/>
<rect x="456.5" y="232.8" width="5.6" height="20.1" fill="#e85552"/>
<line x1="466.87" y1="253.7" x2="466.87" y2="282.6" stroke="#e85552" stroke-width="1" opacity="0.55"/>
<rect x="464.07" y="253.7" width="5.6" height="12.4" fill="#e85552"/>
<line x1="474.44" y1="250.4" x2="474.44" y2="275.2" stroke="#e85552" stroke-width="1" opacity="0.55"/>
<rect x="471.64" y="266.9" width="5.6" height="7.8" fill="#e85552"/>
<line x1="482.01" y1="256.2" x2="482.01" y2="283.5" stroke="#2aa297" stroke-width="1" opacity="0.55"/>
<rect x="479.21" y="259.5" width="5.6" height="15.2" fill="#2aa297"/>
<line x1="489.58" y1="255.4" x2="489.58" y2="271" stroke="#e85552" stroke-width="1" opacity="0.55"/>
<rect x="486.78" y="259.5" width="5.6" height="10.7" fill="#e85552"/>
<line x1="497.14" y1="251.2" x2="497.14" y2="285.1" stroke="#e85552" stroke-width="1" opacity="0.55"/>
<rect x="494.34" y="271.1" width="5.6" height="2.4" fill="#e85552"/>
<line x1="504.71" y1="223.7" x2="504.71" y2="292.7" stroke="#2aa297" stroke-width="1" opacity="0.55"/>
<rect x="501.91" y="230.1" width="5.6" height="43.2" fill="#2aa297"/>
<line x1="512.28" y1="215" x2="512.28" y2="262" stroke="#e85552" stroke-width="1" opacity="0.55"/>
<rect x="509.48" y="230.1" width="5.6" height="29.7" fill="#e85552"/>
<line x1="519.85" y1="248.4" x2="519.85" y2="268.1" stroke="#e85552" stroke-width="1" opacity="0.55"/>
<rect x="517.05" y="261.2" width="5.6" height="4.9" fill="#e85552"/>
<line x1="527.42" y1="262.3" x2="527.42" y2="277.2" stroke="#e85552" stroke-width="1" opacity="0.55"/>
<rect x="524.62" y="266.9" width="5.6" height="8.1" fill="#e85552"/>
<line x1="534.98" y1="264.8" x2="534.98" y2="299.5" stroke="#e85552" stroke-width="1" opacity="0.55"/>
<rect x="532.18" y="275.5" width="5.6" height="14.1" fill="#e85552"/>
<line x1="542.55" y1="287.9" x2="542.55" y2="354.3" stroke="#e85552" stroke-width="1" opacity="0.55"/>
<rect x="539.75" y="290.4" width="5.6" height="45.1" fill="#e85552"/>
<line x1="550.12" y1="332" x2="550.12" y2="358" stroke="#e85552" stroke-width="1" opacity="0.55"/>
<rect x="547.32" y="336" width="5.6" height="14" fill="#e85552"/>
<line x1="557.69" y1="344.8" x2="557.69" y2="381.1" stroke="#2aa297" stroke-width="1" opacity="0.55"/>
<rect x="554.89" y="347.5" width="5.6" height="2.5" fill="#2aa297"/>
<line x1="565.26" y1="303.6" x2="565.26" y2="350.2" stroke="#2aa297" stroke-width="1" opacity="0.55"/>
<rect x="562.46" y="305.3" width="5.6" height="41.8" fill="#2aa297"/>
<line x1="572.82" y1="270.6" x2="572.82" y2="317.5" stroke="#e85552" stroke-width="1" opacity="0.55"/>
<rect x="570.02" y="304.6" width="5.6" height="1.4" fill="#e85552"/>
<line x1="580.39" y1="289.6" x2="580.39" y2="314.4" stroke="#e85552" stroke-width="1" opacity="0.55"/>
<rect x="577.59" y="305.8" width="5.6" height="4" fill="#e85552"/>
<line x1="587.96" y1="282.1" x2="587.96" y2="317.7" stroke="#2aa297" stroke-width="1" opacity="0.55"/>
<rect x="585.16" y="297" width="5.6" height="12.4" fill="#2aa297"/>
<line x1="595.53" y1="288.8" x2="595.53" y2="306.9" stroke="#e85552" stroke-width="1" opacity="0.55"/>
<rect x="592.73" y="296.7" width="5.6" height="2.5" fill="#e85552"/>
<line x1="603.1" y1="291.2" x2="603.1" y2="339.5" stroke="#e85552" stroke-width="1" opacity="0.55"/>
<rect x="600.3" y="299.8" width="5.6" height="21.6" fill="#e85552"/>
<line x1="610.66" y1="269.8" x2="610.66" y2="378.6" stroke="#2aa297" stroke-width="1" opacity="0.55"/>
<rect x="607.86" y="285.5" width="5.6" height="35.9" fill="#2aa297"/>
<line x1="618.23" y1="253.2" x2="618.23" y2="289.6" stroke="#2aa297" stroke-width="1" opacity="0.55"/>
<rect x="615.43" y="278.3" width="5.6" height="6.3" fill="#2aa297"/>
<line x1="625.8" y1="269.8" x2="625.8" y2="333.2" stroke="#e85552" stroke-width="1" opacity="0.55"/>
<rect x="623" y="278.3" width="5.6" height="49.2" fill="#e85552"/>
<line x1="633.37" y1="279.2" x2="633.37" y2="334.9" stroke="#2aa297" stroke-width="1" opacity="0.55"/>
<rect x="630.57" y="279.2" width="5.6" height="48.3" fill="#2aa297"/>
<line x1="640.94" y1="279.2" x2="640.94" y2="319.2" stroke="#e85552" stroke-width="1" opacity="0.55"/>
<rect x="638.14" y="279.2" width="5.6" height="28.6" fill="#e85552"/>
<line x1="648.5" y1="278.8" x2="648.5" y2="312.7" stroke="#2aa297" stroke-width="1" opacity="0.55"/>
<rect x="645.7" y="301.2" width="5.6" height="6.9" fill="#2aa297"/>
<line x1="656.07" y1="283" x2="656.07" y2="330.8" stroke="#e85552" stroke-width="1" opacity="0.55"/>
<rect x="653.27" y="301.2" width="5.6" height="15.3" fill="#e85552"/>
<line x1="663.64" y1="312.7" x2="663.64" y2="353.1" stroke="#e85552" stroke-width="1" opacity="0.55"/>
<rect x="660.84" y="316.9" width="5.6" height="17.2" fill="#e85552"/>
<line x1="671.21" y1="313.6" x2="671.21" y2="339.5" stroke="#2aa297" stroke-width="1" opacity="0.55"/>
<rect x="668.41" y="315.7" width="5.6" height="18.3" fill="#2aa297"/>
<line x1="678.78" y1="315.7" x2="678.78" y2="372.8" stroke="#e85552" stroke-width="1" opacity="0.55"/>
<rect x="675.98" y="315.7" width="5.6" height="52.5" fill="#e85552"/>
<line x1="686.34" y1="352.2" x2="686.34" y2="391.8" stroke="#e85552" stroke-width="1" opacity="0.55"/>
<rect x="683.54" y="368.2" width="5.6" height="16.5" fill="#e85552"/>
<line x1="693.91" y1="357.9" x2="693.91" y2="396" stroke="#2aa297" stroke-width="1" opacity="0.55"/>
<rect x="691.11" y="371.2" width="5.6" height="13.5" fill="#2aa297"/>
<line x1="701.48" y1="366.2" x2="701.48" y2="410" stroke="#e85552" stroke-width="1" opacity="0.55"/>
<rect x="698.68" y="371" width="5.6" height="29.1" fill="#e85552"/>
<line x1="709.05" y1="369.3" x2="709.05" y2="415" stroke="#2aa297" stroke-width="1" opacity="0.55"/>
<rect x="706.25" y="377" width="5.6" height="23.1" fill="#2aa297"/>
<line x1="716.62" y1="354.8" x2="716.62" y2="396" stroke="#2aa297" stroke-width="1" opacity="0.55"/>
<rect x="713.82" y="358.1" width="5.6" height="18.4" fill="#2aa297"/>
<line x1="724.18" y1="328.8" x2="724.18" y2="370.2" stroke="#2aa297" stroke-width="1" opacity="0.55"/>
<rect x="721.38" y="355" width="5.6" height="2.6" fill="#2aa297"/>
<line x1="731.75" y1="331.3" x2="731.75" y2="359" stroke="#2aa297" stroke-width="1" opacity="0.55"/>
<rect x="728.95" y="344.7" width="5.6" height="10.1" fill="#2aa297"/>
<line x1="739.32" y1="328.4" x2="739.32" y2="355.1" stroke="#e85552" stroke-width="1" opacity="0.55"/>
<rect x="736.52" y="344.7" width="5.6" height="5.4" fill="#e85552"/>
<line x1="746.89" y1="332" x2="746.89" y2="370" stroke="#e85552" stroke-width="1" opacity="0.55"/>
<rect x="744.09" y="350.2" width="5.6" height="9.9" fill="#e85552"/>
<line x1="754.46" y1="336.1" x2="754.46" y2="360.9" stroke="#2aa297" stroke-width="1" opacity="0.55"/>
<rect x="751.66" y="350.2" width="5.6" height="9.9" fill="#2aa297"/>
<line x1="762.02" y1="305.5" x2="762.02" y2="350.2" stroke="#2aa297" stroke-width="1" opacity="0.55"/>
<rect x="759.22" y="325.9" width="5.6" height="24.3" fill="#2aa297"/>
<line x1="769.59" y1="285.7" x2="769.59" y2="327.9" stroke="#2aa297" stroke-width="1" opacity="0.55"/>
<rect x="766.79" y="302.7" width="5.6" height="22.7" fill="#2aa297"/>
<line x1="777.16" y1="299.8" x2="777.16" y2="319.6" stroke="#e85552" stroke-width="1" opacity="0.55"/>
<rect x="774.36" y="306.7" width="5.6" height="3.8" fill="#e85552"/>
<line x1="784.73" y1="298.1" x2="784.73" y2="335.8" stroke="#2aa297" stroke-width="1" opacity="0.55"/>
<rect x="781.93" y="307.2" width="5.6" height="3.3" fill="#2aa297"/>
<line x1="792.3" y1="270" x2="792.3" y2="313.3" stroke="#2aa297" stroke-width="1" opacity="0.55"/>
<rect x="789.5" y="279.9" width="5.6" height="26.5" fill="#2aa297"/>
<line x1="799.86" y1="232.1" x2="799.86" y2="283.3" stroke="#2aa297" stroke-width="1" opacity="0.55"/>
<rect x="797.06" y="242.8" width="5.6" height="36.5" fill="#2aa297"/>
<line x1="807.43" y1="210.6" x2="807.43" y2="249.4" stroke="#2aa297" stroke-width="1" opacity="0.55"/>
<rect x="804.63" y="210.6" width="5.6" height="31.9" fill="#2aa297"/>
<line x1="815" y1="204.8" x2="815" y2="232.9" stroke="#e85552" stroke-width="1" opacity="0.55"/>
<rect x="812.2" y="210.6" width="5.6" height="14" fill="#e85552"/>
<line x1="822.57" y1="220.5" x2="822.57" y2="246.9" stroke="#e85552" stroke-width="1" opacity="0.55"/>
<rect x="819.77" y="225.5" width="5.6" height="16.5" fill="#e85552"/>
<line x1="830.14" y1="232.1" x2="830.14" y2="255.2" stroke="#2aa297" stroke-width="1" opacity="0.55"/>
<rect x="827.34" y="238.7" width="5.6" height="3.3" fill="#2aa297"/>
<line x1="837.7" y1="216.4" x2="837.7" y2="263.5" stroke="#e85552" stroke-width="1" opacity="0.55"/>
<rect x="834.9" y="238.7" width="5.6" height="17.7" fill="#e85552"/>
<line x1="845.27" y1="243.6" x2="845.27" y2="277.5" stroke="#e85552" stroke-width="1" opacity="0.55"/>
<rect x="842.47" y="256.9" width="5.6" height="16.8" fill="#e85552"/>
<line x1="852.84" y1="256" x2="852.84" y2="275" stroke="#2aa297" stroke-width="1" opacity="0.55"/>
<rect x="850.04" y="260.2" width="5.6" height="13.5" fill="#2aa297"/>
<line x1="860.41" y1="246.9" x2="860.41" y2="277.5" stroke="#2aa297" stroke-width="1" opacity="0.55"/>
<rect x="857.61" y="252.4" width="5.6" height="7.8" fill="#2aa297"/>
<line x1="867.98" y1="224.6" x2="867.98" y2="273.4" stroke="#2aa297" stroke-width="1" opacity="0.55"/>
<rect x="865.18" y="224.6" width="5.6" height="27.3" fill="#2aa297"/>
<line x1="875.54" y1="207.3" x2="875.54" y2="237.9" stroke="#e85552" stroke-width="1" opacity="0.55"/>
<rect x="872.74" y="224" width="5.6" height="1.4" fill="#e85552"/>
<line x1="883.11" y1="209.8" x2="883.11" y2="240.3" stroke="#2aa297" stroke-width="1" opacity="0.55"/>
<rect x="880.31" y="214.4" width="5.6" height="9.9" fill="#2aa297"/>
<line x1="890.68" y1="207.3" x2="890.68" y2="240.3" stroke="#e85552" stroke-width="1" opacity="0.55"/>
<rect x="887.88" y="214.4" width="5.6" height="25.7" fill="#e85552"/>
<line x1="898.25" y1="240.2" x2="898.25" y2="278" stroke="#e85552" stroke-width="1" opacity="0.55"/>
<rect x="895.45" y="240.2" width="5.6" height="37.7" fill="#e85552"/>
<line x1="905.82" y1="264.1" x2="905.82" y2="283.5" stroke="#e85552" stroke-width="1" opacity="0.55"/>
<rect x="903.02" y="278" width="5.6" height="5" fill="#e85552"/>
<line x1="913.38" y1="264.5" x2="913.38" y2="303.6" stroke="#e85552" stroke-width="1" opacity="0.55"/>
<rect x="910.58" y="283.2" width="5.6" height="11.5" fill="#e85552"/>
<line x1="920.95" y1="291" x2="920.95" y2="316.8" stroke="#e85552" stroke-width="1" opacity="0.55"/>
<rect x="918.15" y="295" width="5.6" height="21" fill="#e85552"/>
<line x1="928.52" y1="299.4" x2="928.52" y2="316.8" stroke="#2aa297" stroke-width="1" opacity="0.55"/>
<rect x="925.72" y="306.9" width="5.6" height="9.1" fill="#2aa297"/>
<line x1="936.09" y1="302.7" x2="936.09" y2="326.7" stroke="#e85552" stroke-width="1" opacity="0.55"/>
<rect x="933.29" y="306.4" width="5.6" height="17" fill="#e85552"/>
<line x1="943.66" y1="315.1" x2="943.66" y2="332.5" stroke="#e85552" stroke-width="1" opacity="0.55"/>
<rect x="940.86" y="323.35" width="5.6" height="1.4" fill="#e85552"/>
<line x1="951.22" y1="311" x2="951.22" y2="336.6" stroke="#2aa297" stroke-width="1" opacity="0.55"/>
<rect x="948.42" y="314.8" width="5.6" height="9.9" fill="#2aa297"/>
<line x1="958.79" y1="290.2" x2="958.79" y2="318.4" stroke="#2aa297" stroke-width="1" opacity="0.55"/>
<rect x="955.99" y="293.6" width="5.6" height="20.7" fill="#2aa297"/>
<line x1="966.36" y1="266.2" x2="966.36" y2="293.6" stroke="#2aa297" stroke-width="1" opacity="0.55"/>
<rect x="963.56" y="278.8" width="5.6" height="14.8" fill="#2aa297"/>
<line x1="973.93" y1="270.5" x2="973.93" y2="285.4" stroke="#2aa297" stroke-width="1" opacity="0.55"/>
<rect x="971.13" y="275" width="5.6" height="3.3" fill="#2aa297"/>
<line x1="981.5" y1="272.1" x2="981.5" y2="292" stroke="#e85552" stroke-width="1" opacity="0.55"/>
<rect x="978.7" y="274.6" width="5.6" height="4.2" fill="#e85552"/>
<line x1="989.06" y1="262.2" x2="989.06" y2="292" stroke="#e85552" stroke-width="1" opacity="0.55"/>
<rect x="986.26" y="278.8" width="5.6" height="9.4" fill="#e85552"/>
<line x1="996.63" y1="268" x2="996.63" y2="318.4" stroke="#e85552" stroke-width="1" opacity="0.55"/>
<rect x="993.83" y="288.7" width="5.6" height="26.8" fill="#e85552"/>
<line x1="1004.2" y1="306.9" x2="1004.2" y2="325.9" stroke="#e85552" stroke-width="1" opacity="0.55"/>
<rect x="1001.4" y="315.5" width="5.6" height="5.4" fill="#e85552"/>
<line x1="1011.77" y1="313.5" x2="1011.77" y2="323.4" stroke="#2aa297" stroke-width="1" opacity="0.55"/>
<rect x="1008.97" y="314.3" width="5.6" height="6.3" fill="#2aa297"/>
<line x1="1019.34" y1="313.5" x2="1019.34" y2="335" stroke="#e85552" stroke-width="1" opacity="0.55"/>
<rect x="1016.54" y="314.3" width="5.6" height="15.7" fill="#e85552"/>
<line x1="1026.9" y1="316.8" x2="1026.9" y2="330.5" stroke="#2aa297" stroke-width="1" opacity="0.55"/>
<rect x="1024.1" y="323.4" width="5.6" height="6.6" fill="#2aa297"/>
<line x1="1034.47" y1="309.3" x2="1034.47" y2="343.2" stroke="#2aa297" stroke-width="1" opacity="0.55"/>
<rect x="1031.67" y="316.4" width="5.6" height="6.7" fill="#2aa297"/>
<line x1="1042.04" y1="266.4" x2="1042.04" y2="327.5" stroke="#2aa297" stroke-width="1" opacity="0.55"/>
<rect x="1039.24" y="274.3" width="5.6" height="41.7" fill="#2aa297"/>
<line x1="1049.61" y1="264.1" x2="1049.61" y2="283.5" stroke="#2aa297" stroke-width="1" opacity="0.55"/>
<rect x="1046.81" y="272.6" width="5.6" height="1.7" fill="#2aa297"/>
<line x1="1057.18" y1="248.4" x2="1057.18" y2="282.3" stroke="#e85552" stroke-width="1" opacity="0.55"/>
<rect x="1054.38" y="272.3" width="5.6" height="3.2" fill="#e85552"/>
<line x1="1064.74" y1="253.8" x2="1064.74" y2="275.5" stroke="#2aa297" stroke-width="1" opacity="0.55"/>
<rect x="1061.94" y="257.1" width="5.6" height="18.4" fill="#2aa297"/>
<line x1="1072.31" y1="252.9" x2="1072.31" y2="301.9" stroke="#e85552" stroke-width="1" opacity="0.55"/>
<rect x="1069.51" y="257.1" width="5.6" height="30.3" fill="#e85552"/>
<line x1="1079.88" y1="274.8" x2="1079.88" y2="291.8" stroke="#2aa297" stroke-width="1" opacity="0.55"/>
<rect x="1077.08" y="285.3" width="5.6" height="2" fill="#2aa297"/>
<line x1="1087.45" y1="261.6" x2="1087.45" y2="285.5" stroke="#2aa297" stroke-width="1" opacity="0.55"/>
<rect x="1084.65" y="264.3" width="5.6" height="20.7" fill="#2aa297"/>
<line x1="1095.02" y1="227.9" x2="1095.02" y2="280.8" stroke="#2aa297" stroke-width="1" opacity="0.55"/>
<rect x="1092.22" y="239.5" width="5.6" height="24.5" fill="#2aa297"/>
<line x1="1102.58" y1="222.1" x2="1102.58" y2="257.7" stroke="#2aa297" stroke-width="1" opacity="0.55"/>
<rect x="1099.78" y="237.85" width="5.6" height="1.4" fill="#2aa297"/>
<line x1="1110.15" y1="189.9" x2="1110.15" y2="251.9" stroke="#e85552" stroke-width="1" opacity="0.55"/>
<rect x="1107.35" y="238.2" width="5.6" height="7.1" fill="#e85552"/>
<line x1="1117.72" y1="219.7" x2="1117.72" y2="245.5" stroke="#2aa297" stroke-width="1" opacity="0.55"/>
<rect x="1114.92" y="229.3" width="5.6" height="16" fill="#2aa297"/>
<line x1="1125.29" y1="208.1" x2="1125.29" y2="238.7" stroke="#2aa297" stroke-width="1" opacity="0.55"/>
<rect x="1122.49" y="225.1" width="5.6" height="4" fill="#2aa297"/>
<line x1="1132.86" y1="223" x2="1132.86" y2="251.9" stroke="#e85552" stroke-width="1" opacity="0.55"/>
<rect x="1130.06" y="225.1" width="5.6" height="25.1" fill="#e85552"/>
<line x1="1140.42" y1="228.8" x2="1140.42" y2="254.4" stroke="#2aa297" stroke-width="1" opacity="0.55"/>
<rect x="1137.62" y="245.3" width="5.6" height="4.9" fill="#2aa297"/>
<line x1="1147.99" y1="242.8" x2="1147.99" y2="282.5" stroke="#e85552" stroke-width="1" opacity="0.55"/>
<rect x="1145.19" y="245.3" width="5.6" height="30.6" fill="#e85552"/>
<line x1="1155.56" y1="263.5" x2="1155.56" y2="280" stroke="#2aa297" stroke-width="1" opacity="0.55"/>
<rect x="1152.76" y="267.3" width="5.6" height="8.6" fill="#2aa297"/>
<line x1="1163.13" y1="264.3" x2="1163.13" y2="280.8" stroke="#e85552" stroke-width="1" opacity="0.55"/>
<rect x="1160.33" y="266.8" width="5.6" height="1.4" fill="#e85552"/>
</g>
<line x1="542.5" y1="359.3" x2="724.3" y2="410.3" stroke="#9cc1de" stroke-width="1.5"/>
<line x1="542.8" y1="693.7" x2="722.4" y2="678" stroke="#9cc1de" stroke-width="1.4"/>
<g font-size="21" font-weight="bold" fill="#dc3524">
<text x="784" y="212.7">2</text>
<text x="904" y="212.7">1</text>
<text x="904.3" y="521">1</text>
</g>
<rect x="1166.4" y="0" width="45.59999999999991" height="726" fill="#fff"/>
<line x1="1166.4" y1="0" x2="1166.4" y2="726" stroke="#d9dbdf" stroke-width="1.6"/>
<line x1="0" y1="477.4" x2="1212" y2="477.4" stroke="#cdd0d5" stroke-width="1.8"/>
<g font-size="8.6" fill="#4b4f58">
<line x1="1166.4" y1="16.5" x2="1169.9" y2="16.5" stroke="#b4b7be" stroke-width="1"/>
<text x="1173.5" y="19.6">1.14500</text>
<line x1="1166.4" y1="51.25" x2="1169.9" y2="51.25" stroke="#b4b7be" stroke-width="1"/>
<text x="1173.5" y="54.35">1.14000</text>
<line x1="1166.4" y1="86" x2="1169.9" y2="86" stroke="#b4b7be" stroke-width="1"/>
<text x="1173.5" y="89.1">1.13500</text>
<line x1="1166.4" y1="120.75" x2="1169.9" y2="120.75" stroke="#b4b7be" stroke-width="1"/>
<text x="1173.5" y="123.85">1.13000</text>
<line x1="1166.4" y1="155.5" x2="1169.9" y2="155.5" stroke="#b4b7be" stroke-width="1"/>
<text x="1173.5" y="158.6">1.12500</text>
<line x1="1166.4" y1="190.25" x2="1169.9" y2="190.25" stroke="#b4b7be" stroke-width="1"/>
<text x="1173.5" y="193.35">1.12000</text>
<line x1="1166.4" y1="225" x2="1169.9" y2="225" stroke="#b4b7be" stroke-width="1"/>
<text x="1173.5" y="228.1">1.11500</text>
<line x1="1166.4" y1="259.75" x2="1169.9" y2="259.75" stroke="#b4b7be" stroke-width="1"/>
<text x="1173.5" y="262.85">1.11000</text>
<line x1="1166.4" y1="294.5" x2="1169.9" y2="294.5" stroke="#b4b7be" stroke-width="1"/>
<text x="1173.5" y="297.6">1.10500</text>
<line x1="1166.4" y1="329.25" x2="1169.9" y2="329.25" stroke="#b4b7be" stroke-width="1"/>
<text x="1173.5" y="332.35">1.10000</text>
<line x1="1166.4" y1="364" x2="1169.9" y2="364" stroke="#b4b7be" stroke-width="1"/>
<text x="1173.5" y="367.1">1.09500</text>
<line x1="1166.4" y1="398.75" x2="1169.9" y2="398.75" stroke="#b4b7be" stroke-width="1"/>
<text x="1173.5" y="401.85">1.09000</text>
<line x1="1166.4" y1="433.5" x2="1169.9" y2="433.5" stroke="#b4b7be" stroke-width="1"/>
<text x="1173.5" y="436.6">1.08500</text>
<line x1="1166.4" y1="468.25" x2="1169.9" y2="468.25" stroke="#b4b7be" stroke-width="1"/>
<text x="1173.5" y="471.35">1.08000</text>
<line x1="1166.4" y1="503" x2="1169.9" y2="503" stroke="#b4b7be" stroke-width="1"/>
<text x="1173.4" y="506.1">0.00400</text>
<line x1="1166.4" y1="546.1" x2="1169.9" y2="546.1" stroke="#b4b7be" stroke-width="1"/>
<text x="1173.4" y="549.2">0.00200</text>
<line x1="1166.4" y1="589.2" x2="1169.9" y2="589.2" stroke="#b4b7be" stroke-width="1"/>
<text x="1173.4" y="592.3">0.00000</text>
<line x1="1166.4" y1="631.8" x2="1169.9" y2="631.8" stroke="#b4b7be" stroke-width="1"/>
<text x="1173.4" y="634.9">-0.00200</text>
<line x1="1166.4" y1="674.7" x2="1169.9" y2="674.7" stroke="#b4b7be" stroke-width="1"/>
<text x="1173.4" y="677.8">-0.00400</text>
</g>
<rect x="1180.2" y="1" width="21.5" height="9.8" rx="1.5" fill="#fff" stroke="#ececef" stroke-width="1"/>
<text x="1183.9" y="9.9" font-size="8.4" fill="#555a64" textLength="14.2" lengthAdjust="spacingAndGlyphs">USD</text>
<rect x="1166.4" y="214.6" width="42" height="11" fill="#5fb661"/>
<text x="1173.5" y="223.2" font-size="8.6" font-weight="bold" fill="#1d2a1d" textLength="30.3" lengthAdjust="spacingAndGlyphs">1.11572</text>
<rect x="1166.4" y="262.4" width="42" height="10.9" fill="#ef5350"/>
<text x="1173.5" y="271" font-size="8.6" font-weight="bold" fill="#fff" textLength="30.3" lengthAdjust="spacingAndGlyphs">1.10883</text>
<rect x="0" y="710.4" width="1212" height="15.600000000000023" fill="#fff"/>
<line x1="0" y1="710.4" x2="1212" y2="710.4" stroke="#85888f" stroke-width="1.2"/>
<line x1="1166.4" y1="710.4" x2="1166.4" y2="726" stroke="#d9dbdf" stroke-width="1.6"/>
<g font-size="8.8" fill="#4b4f58" text-anchor="middle">
<line x1="58.2" y1="710.4" x2="58.2" y2="712.9" stroke="#5b5e66" stroke-width="1"/>
<text x="58.2" y="724.2">Jun</text>
<line x1="133.88" y1="710.4" x2="133.88" y2="712.9" stroke="#5b5e66" stroke-width="1"/>
<text x="133.88" y="724.2">17</text>
<line x1="209.56" y1="710.4" x2="209.56" y2="712.9" stroke="#5b5e66" stroke-width="1"/>
<text x="209.56" y="724.2">Jul</text>
<line x1="285.24" y1="710.4" x2="285.24" y2="712.9" stroke="#5b5e66" stroke-width="1"/>
<text x="285.24" y="724.2">15</text>
<line x1="383.62" y1="710.4" x2="383.62" y2="712.9" stroke="#5b5e66" stroke-width="1"/>
<text x="383.62" y="724.2">Aug</text>
<line x1="474.44" y1="710.4" x2="474.44" y2="712.9" stroke="#5b5e66" stroke-width="1"/>
<text x="474.44" y="724.2">19</text>
<line x1="550.12" y1="710.4" x2="550.12" y2="712.9" stroke="#5b5e66" stroke-width="1"/>
<text x="550.12" y="724.2">Sep</text>
<line x1="625.8" y1="710.4" x2="625.8" y2="712.9" stroke="#5b5e66" stroke-width="1"/>
<text x="625.8" y="724.2">16</text>
<line x1="709.05" y1="710.4" x2="709.05" y2="712.9" stroke="#5b5e66" stroke-width="1"/>
<text x="709.05" y="724.2">Oct</text>
<line x1="777.16" y1="710.4" x2="777.16" y2="712.9" stroke="#5b5e66" stroke-width="1"/>
<text x="777.16" y="724.2">14</text>
<line x1="966.36" y1="710.4" x2="966.36" y2="712.9" stroke="#5b5e66" stroke-width="1"/>
<text x="966.36" y="724.2">18</text>
<line x1="1042.04" y1="710.4" x2="1042.04" y2="712.9" stroke="#5b5e66" stroke-width="1"/>
<text x="1042.04" y="724.2">Dec</text>
<line x1="1117.72" y1="710.4" x2="1117.72" y2="712.9" stroke="#5b5e66" stroke-width="1"/>
<text x="1117.72" y="724.2">16</text>
</g>
<rect x="872.3" y="711" width="51.7" height="15" fill="#2f9be8"/>
<text x="898.2" y="722.6" font-size="8.6" fill="#fff" stroke="#fff" stroke-width="0.25" text-anchor="middle">05 Nov '19</text>
<rect x="0" y="0" width="470" height="15.6" fill="#fff"/>
<rect x="0" y="15" width="113" height="23.5" fill="#fff"/>
<g font-size="11.1" fill="#585b63" stroke="#585b63" stroke-width="0.22">
<text x="2" y="11.5" textLength="92.5" lengthAdjust="spacingAndGlyphs">Euro / U.S. Dollar</text>
<text x="105.8" y="11.5" textLength="12" lengthAdjust="spacingAndGlyphs">1D</text>
<text x="126.6" y="11.5" textLength="36.8" lengthAdjust="spacingAndGlyphs">OANDA</text>
</g>
<circle cx="100" cy="7.8" r="0.8" fill="#9a9da5"/><circle cx="122.2" cy="7.8" r="0.8" fill="#9a9da5"/>
<path d="M180.8 3.3 H189.2 V13.2 H180.8 A4.95 4.95 0 0 1 180.8 3.3 Z" fill="#eef0f4"/>
<path d="M189.2 3.3 H197.4 A4.95 4.95 0 0 1 197.4 13.2 H189.2 Z" fill="#fce3ea"/>
<rect x="179.2" y="7.5" width="6.3" height="1.5" fill="#5e616a"/>
<path d="M192.4 7.4 Q194 5.6 195.7 6.9 T199 6.4 M192.4 10.2 Q194 8.4 195.7 9.7 T199 9.2" fill="none" stroke="#e8558a" stroke-width="1.2"/>
<text x="215" y="12" font-size="8.7" textLength="39.3" lengthAdjust="spacingAndGlyphs"><tspan fill="#5a5d66">O</tspan><tspan fill="#ee7f7c">1.19856</tspan></text>
<text x="258.9" y="12" font-size="8.7" textLength="39.3" lengthAdjust="spacingAndGlyphs"><tspan fill="#5a5d66">H</tspan><tspan fill="#ee7f7c">1.19886</tspan></text>
<text x="302.8" y="12" font-size="8.7" textLength="37.6" lengthAdjust="spacingAndGlyphs"><tspan fill="#5a5d66">L</tspan><tspan fill="#ee7f7c">1.19099</tspan></text>
<text x="345" y="12" font-size="8.7" textLength="39.3" lengthAdjust="spacingAndGlyphs"><tspan fill="#5a5d66">C</tspan><tspan fill="#ee7f7c">1.19525</tspan></text>
<text x="389.4" y="12" font-size="8.7" fill="#ee7f7c" textLength="35.8" lengthAdjust="spacingAndGlyphs">-0.00331</text>
<text x="428.6" y="12" font-size="8.7" fill="#ee7f7c" textLength="34.7" lengthAdjust="spacingAndGlyphs">(-0.28%)</text>
<rect x="2.2" y="20" width="41.8" height="15.6" rx="2.5" fill="#fff" stroke="#efb4b4" stroke-width="1.5"/>
<text x="7.4" y="31.2" font-size="9.4" fill="#ee8f8c" textLength="26.2" lengthAdjust="spacingAndGlyphs">1.1948</text>
<text x="34" y="28.6" font-size="6.4" fill="#ee8f8c">1</text>
<text x="55.7" y="29.8" font-size="6.4" fill="#70737b" text-anchor="middle">8.8</text>
<rect x="68" y="20" width="41.8" height="15.6" rx="2.5" fill="#fff" stroke="#9cc6dd" stroke-width="1.5"/>
<text x="73.2" y="31.2" font-size="9.4" fill="#7ab3d6" textLength="26.2" lengthAdjust="spacingAndGlyphs">1.1956</text>
<text x="99.8" y="28.6" font-size="6.4" fill="#7ab3d6">9</text>
<rect x="0" y="479" width="212" height="18.5" fill="#fff"/>
<text x="2" y="491.9" font-size="8.6" fill="#4a4d55" textLength="79.8" lengthAdjust="spacingAndGlyphs">MACD 12 26 close 9</text>
<text x="89.3" y="491.9" font-size="8.6" fill="#fcdde0" textLength="34.7" lengthAdjust="spacingAndGlyphs">-0.00121</text>
<text x="130.9" y="491.9" font-size="8.6" fill="#3a66c4" textLength="35.7" lengthAdjust="spacingAndGlyphs">-0.00484</text>
<text x="173" y="491.9" font-size="8.6" fill="#f3d284" textLength="36.5" lengthAdjust="spacingAndGlyphs">-0.00363</text>
<circle cx="12.2" cy="693.6" r="11.6" fill="#fff" stroke="#f3f3f5" stroke-width="1"/>
<path d="M4.3 695.6 Q4.1 693.4 6.6 692.6 Q8 689 10.8 688.7 Q13.6 688.7 15 691.8 Q19.9 692 20.1 695.6 Q20.1 698.6 17 698.6 H7.2 Q4.3 698.6 4.3 695.6 Z" fill="#2f9bd6"/>
<path d="M7.2 696.8 L10.4 692.4 L14.2 697 L16.9 693.7" fill="none" stroke="#a9e3fb" stroke-width="1.6"/>
<circle cx="1144.8" cy="697" r="11.2" fill="#fff" stroke="#f1f2f4" stroke-width="1.2"/>
<path d="M1140.6 693.9 L1142.9 696.7 L1140.6 699.5" fill="none" stroke="#8a8d94" stroke-width="1.5"/>
<path d="M1143.8 692 L1147.6 696.6 L1143.8 701.2" fill="none" stroke="#4f525a" stroke-width="1.9"/>
<circle cx="1191.3" cy="720.8" r="3.9" fill="none" stroke="#4a4d55" stroke-width="1.5"/>
<g stroke="#4a4d55" stroke-width="1.7">
<line x1="1195.27" y1="722.45" x2="1196.38" y2="722.9"/>
<line x1="1192.95" y1="724.77" x2="1193.4" y2="725.88"/>
<line x1="1189.65" y1="724.77" x2="1189.2" y2="725.88"/>
<line x1="1187.33" y1="722.45" x2="1186.22" y2="722.9"/>
<line x1="1187.33" y1="719.15" x2="1186.22" y2="718.7"/>
<line x1="1189.65" y1="716.83" x2="1189.2" y2="715.72"/>
<line x1="1192.95" y1="716.83" x2="1193.4" y2="715.72"/>
<line x1="1195.27" y1="719.15" x2="1196.38" y2="718.7"/>
</g>
<path d="M1204.8 727 L1208.6 720 L1212.4 727" fill="none" stroke="#8a8d94" stroke-width="1.2"/>
</svg>
</div>
</body></html>
